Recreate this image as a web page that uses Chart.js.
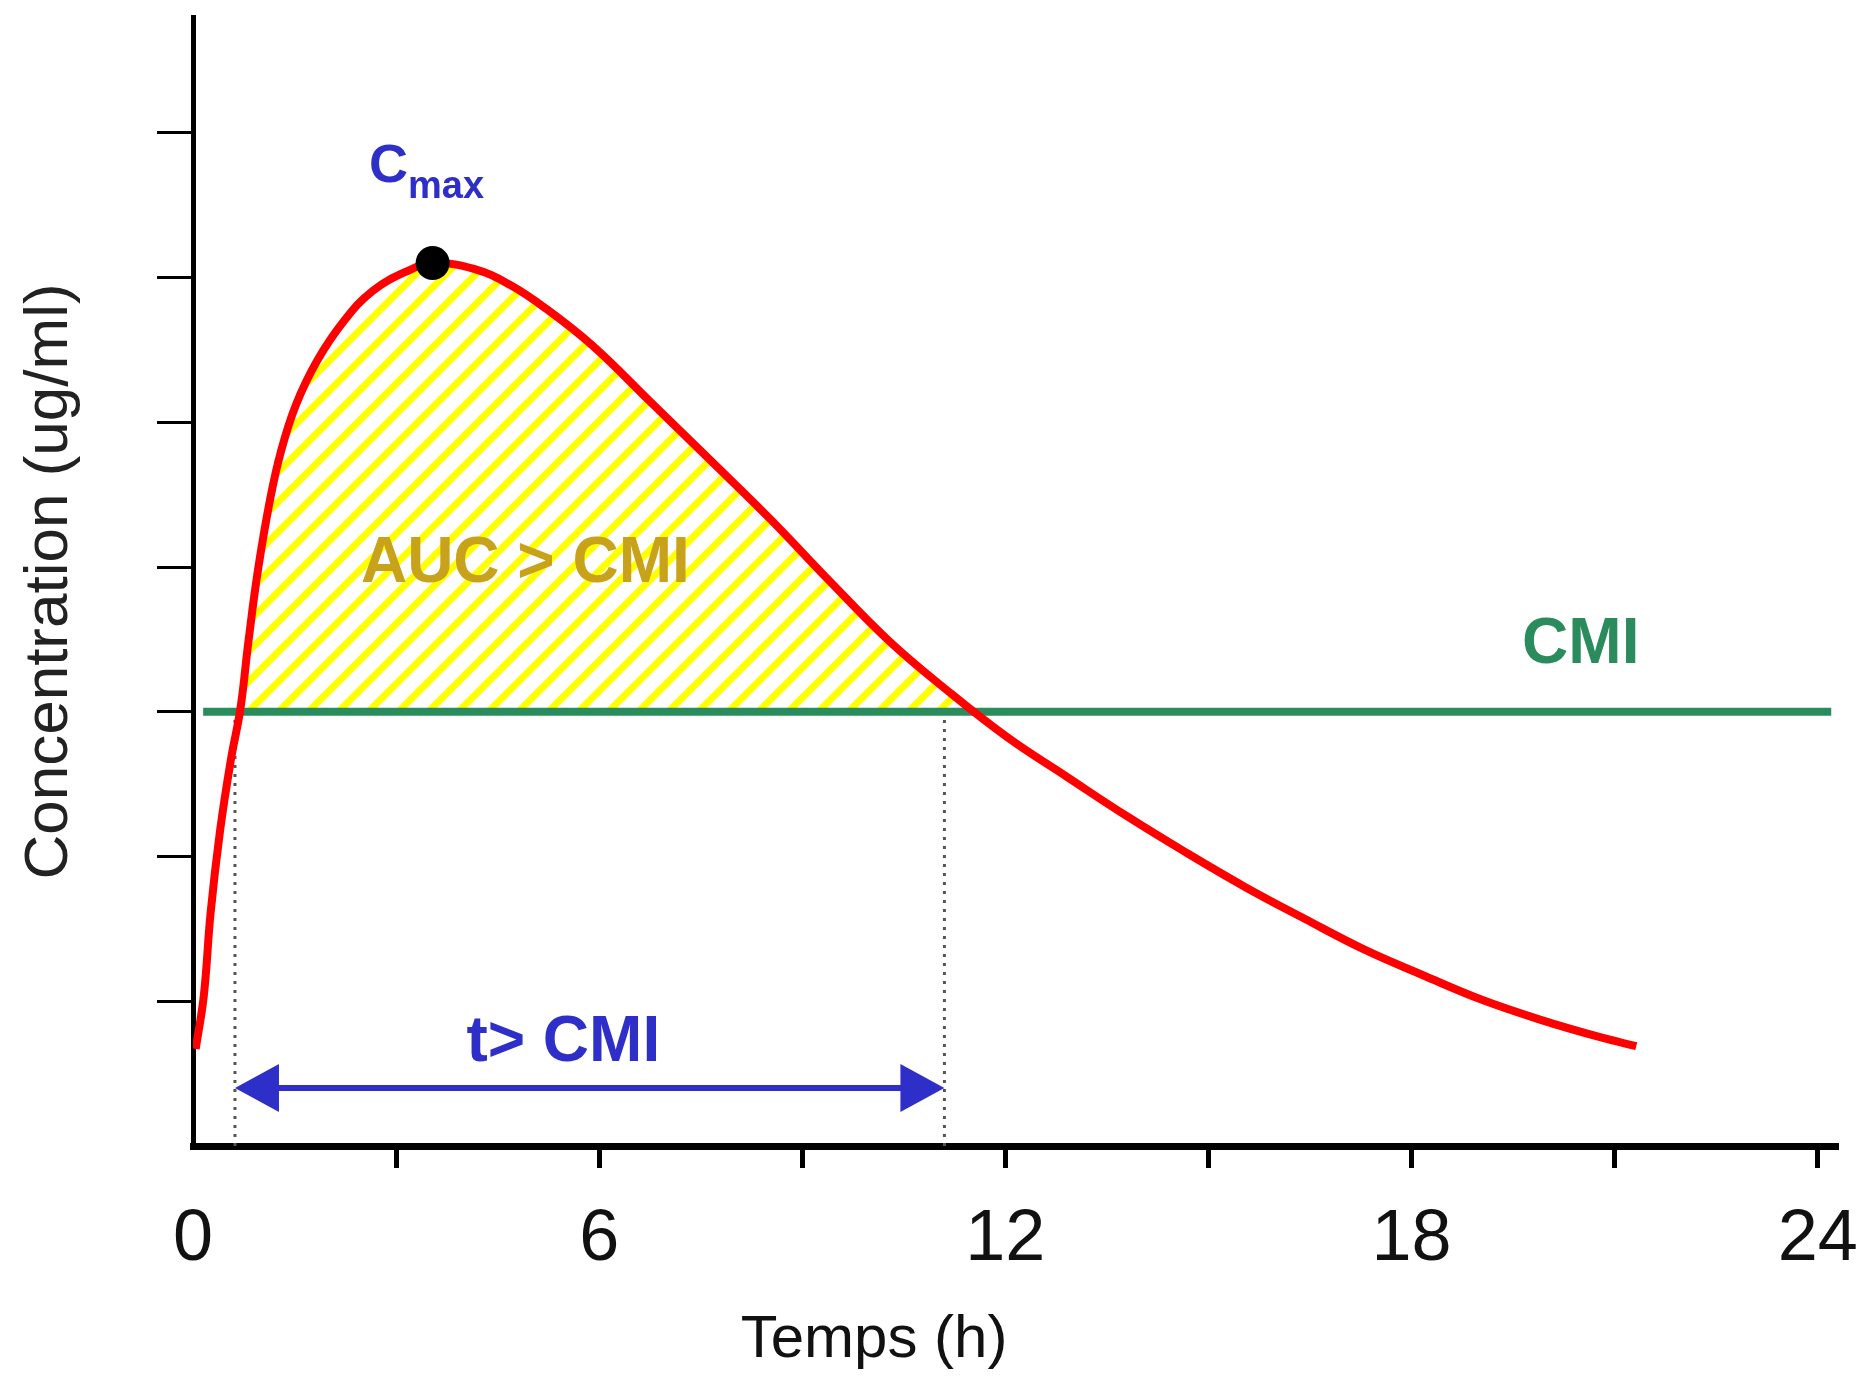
<!DOCTYPE html>
<html>
<head>
<meta charset="utf-8">
<script src="https://cdn.jsdelivr.net/npm/chart.js@4.4.1/dist/chart.umd.min.js"></script>
<style>
  html, body { margin: 0; padding: 0; background: #fff; }
  #wrap { width: 1859px; height: 1378px; }
</style>
</head>
<body>
<div id="wrap"><canvas id="pk" width="1859" height="1378"></canvas></div>
<script>
// concentration curve (time in h)
const timeH = [0.04, 0.16, 0.26, 0.40, 0.56, 0.70, 0.82, 0.96, 1.14, 1.30, 1.52, 1.84, 2.23, 2.66, 3.19, 3.54,
  4.15, 4.68, 5.20, 5.90, 6.78, 7.66, 8.53, 9.41, 10.28, 11.16, 12.04, 12.91, 13.79, 14.66, 15.54, 16.42,
  17.29, 18.17, 19.04, 19.92, 20.80, 21.32];
const concentration = [0.67, 1.04, 1.61, 2.18, 2.67, 3.02, 3.49, 3.98, 4.47, 4.80, 5.12, 5.43, 5.70, 5.91, 6.05, 6.10,
  6.06, 5.95, 5.79, 5.53, 5.13, 4.73, 4.33, 3.90, 3.49, 3.14, 2.82, 2.55, 2.28, 2.03, 1.79, 1.57,
  1.36, 1.18, 1.01, 0.87, 0.75, 0.69];

const cmaxPoint = [3.54, 6.10];
const cmi = 3;
const cmiSpan = [0.15, 24.2];
const timeAboveCmi = [0.62, 11.1];   // dotted markers and arrow ends
const arrowLevel = 0.40;

const xTickValues = [0, 3, 6, 9, 12, 15, 18, 21, 24];
const xTickLabels = ['0', '', '6', '', '12', '', '18', '', '24'];
const yTickValues = [1, 2, 3, 4, 5, 6, 7];

const RED = '#ff0000';
const GREEN = '#2a8c5c';
const BLUE = '#2e2ec8';
const GOLD = '#c9a21c';
const FONT = '"Liberation Sans", Arial, sans-serif';

const ctx = document.getElementById('pk').getContext('2d');

// yellow diagonal hatching for the AUC > CMI area
function hatch() {
  const s = 30;
  const c = document.createElement('canvas');
  c.width = s; c.height = s;
  const g = c.getContext('2d');
  g.strokeStyle = '#ffff00';
  g.lineWidth = 7;
  g.beginPath();
  g.moveTo(0, s); g.lineTo(s, 0);
  g.moveTo(-s / 2, s / 2); g.lineTo(s / 2, -s / 2);
  g.moveTo(s / 2, s * 1.5); g.lineTo(s * 1.5, s / 2);
  g.stroke();
  return ctx.createPattern(c, 'repeat');
}

const labels = {
  id: 'labels',
  afterDatasetsDraw(chart) {
    const { ctx, scales: { x, y } } = chart;
    ctx.save();
    ctx.textBaseline = 'alphabetic';

    // Cmax
    ctx.fillStyle = BLUE;
    ctx.textAlign = 'left';
    ctx.font = 'bold 54px ' + FONT;
    const cx = x.getPixelForValue(2.6), cy = y.getPixelForValue(6.66);
    ctx.fillText('C', cx, cy);
    const w = ctx.measureText('C').width;
    ctx.font = 'bold 38px ' + FONT;
    ctx.fillText('max', cx + w, cy + 16);

    ctx.textAlign = 'center';
    ctx.textBaseline = 'middle';
    ctx.font = 'bold 64px ' + FONT;
    ctx.fillStyle = GOLD;
    ctx.fillText('AUC > CMI', x.getPixelForValue(4.91), y.getPixelForValue(4.02));
    ctx.fillStyle = GREEN;
    ctx.fillText('CMI', x.getPixelForValue(20.5), y.getPixelForValue(3.46));
    ctx.fillStyle = BLUE;
    ctx.fillText('t> CMI', x.getPixelForValue(5.47), y.getPixelForValue(0.71));

    // axis title, set left of centre as in the original
    ctx.fillStyle = '#111';
    ctx.font = '60px ' + FONT;
    ctx.fillText('Temps (h)', x.getPixelForValue(10.06), x.bottom - 38);

    // double arrow for time above CMI
    const x0 = x.getPixelForValue(timeAboveCmi[0]);
    const x1 = x.getPixelForValue(timeAboveCmi[1]);
    const ay = y.getPixelForValue(arrowLevel);
    const hl = 44, hw = 24;
    ctx.strokeStyle = BLUE;
    ctx.lineWidth = 6;
    ctx.beginPath();
    ctx.moveTo(x0 + hl - 4, ay);
    ctx.lineTo(x1 - hl + 4, ay);
    ctx.stroke();
    ctx.fillStyle = BLUE;
    ctx.beginPath();
    ctx.moveTo(x0, ay); ctx.lineTo(x0 + hl, ay - hw); ctx.lineTo(x0 + hl, ay + hw); ctx.closePath();
    ctx.moveTo(x1, ay); ctx.lineTo(x1 - hl, ay - hw); ctx.lineTo(x1 - hl, ay + hw); ctx.closePath();
    ctx.fill();
    ctx.restore();
  }
};

const dotted = (t) => ({
  data: [{ x: t, y: 0 }, { x: t, y: cmi }],
  borderColor: '#555',
  borderWidth: 3,
  borderDash: [3, 6],
  pointRadius: 0,
  order: 5
});

new Chart(ctx, {
  type: 'line',
  data: {
    datasets: [
      {
        label: 'Concentration',
        data: timeH.map((t, i) => ({ x: t, y: concentration[i] })),
        borderColor: RED,
        borderWidth: 8,
        pointRadius: 0,
        tension: 0.4,
        fill: { target: { value: cmi }, above: hatch(), below: 'rgba(0,0,0,0)' },
        order: 2
      },
      {
        label: 'CMI',
        data: cmiSpan.map(t => ({ x: t, y: cmi })),
        borderColor: GREEN,
        borderWidth: 8,
        pointRadius: 0,
        order: 3
      },
      dotted(timeAboveCmi[0]),
      dotted(timeAboveCmi[1]),
      {
        label: 'Cmax',
        data: [{ x: cmaxPoint[0], y: cmaxPoint[1] }],
        showLine: false,
        pointRadius: 17,
        pointBackgroundColor: '#000',
        pointBorderWidth: 0,
        order: 0
      }
    ]
  },
  options: {
    responsive: false,
    animation: false,
    layout: { padding: { top: 14, right: 21, left: 0, bottom: 0 } },
    plugins: {
      legend: { display: false },
      tooltip: { enabled: false },
      filler: { drawTime: 'beforeDatasetsDraw' }
    },
    scales: {
      x: {
        type: 'linear',
        min: 0,
        max: 24.3,
        afterBuildTicks: (s) => { s.ticks = xTickValues.map(v => ({ value: v })); },
        afterFit: (s) => { s.height = 232; s.paddingLeft = 0; s.paddingRight = 0; },
        ticks: {
          callback: (v, i) => xTickLabels[i],
          color: '#111',
          padding: 29,
          maxRotation: 0,
          autoSkip: false,
          font: { family: FONT, size: 72 }
        },
        grid: {
          drawOnChartArea: false,
          tickLength: 22,
          tickWidth: 5,
          tickColor: (c) => (c.tick && c.tick.value === 0 ? 'rgba(0,0,0,0)' : '#000')
        },
        border: { color: '#000', width: 7 }
      },
      y: {
        min: 0,
        max: 7.8,
        afterBuildTicks: (s) => { s.ticks = yTickValues.map(v => ({ value: v })); },
        afterFit: (s) => { s.width = 193; },
        ticks: { display: false },
        grid: { drawOnChartArea: false, tickLength: 36, tickWidth: 3, tickColor: '#000' },
        border: { color: '#000', width: 5 },
        title: {
          display: true,
          text: 'Concentration (ug/ml)',
          color: '#222',
          padding: { top: 13, bottom: 0 },
          font: { family: FONT, size: 62 }
        }
      }
    }
  },
  plugins: [labels]
});
</script>
</body>
</html>
